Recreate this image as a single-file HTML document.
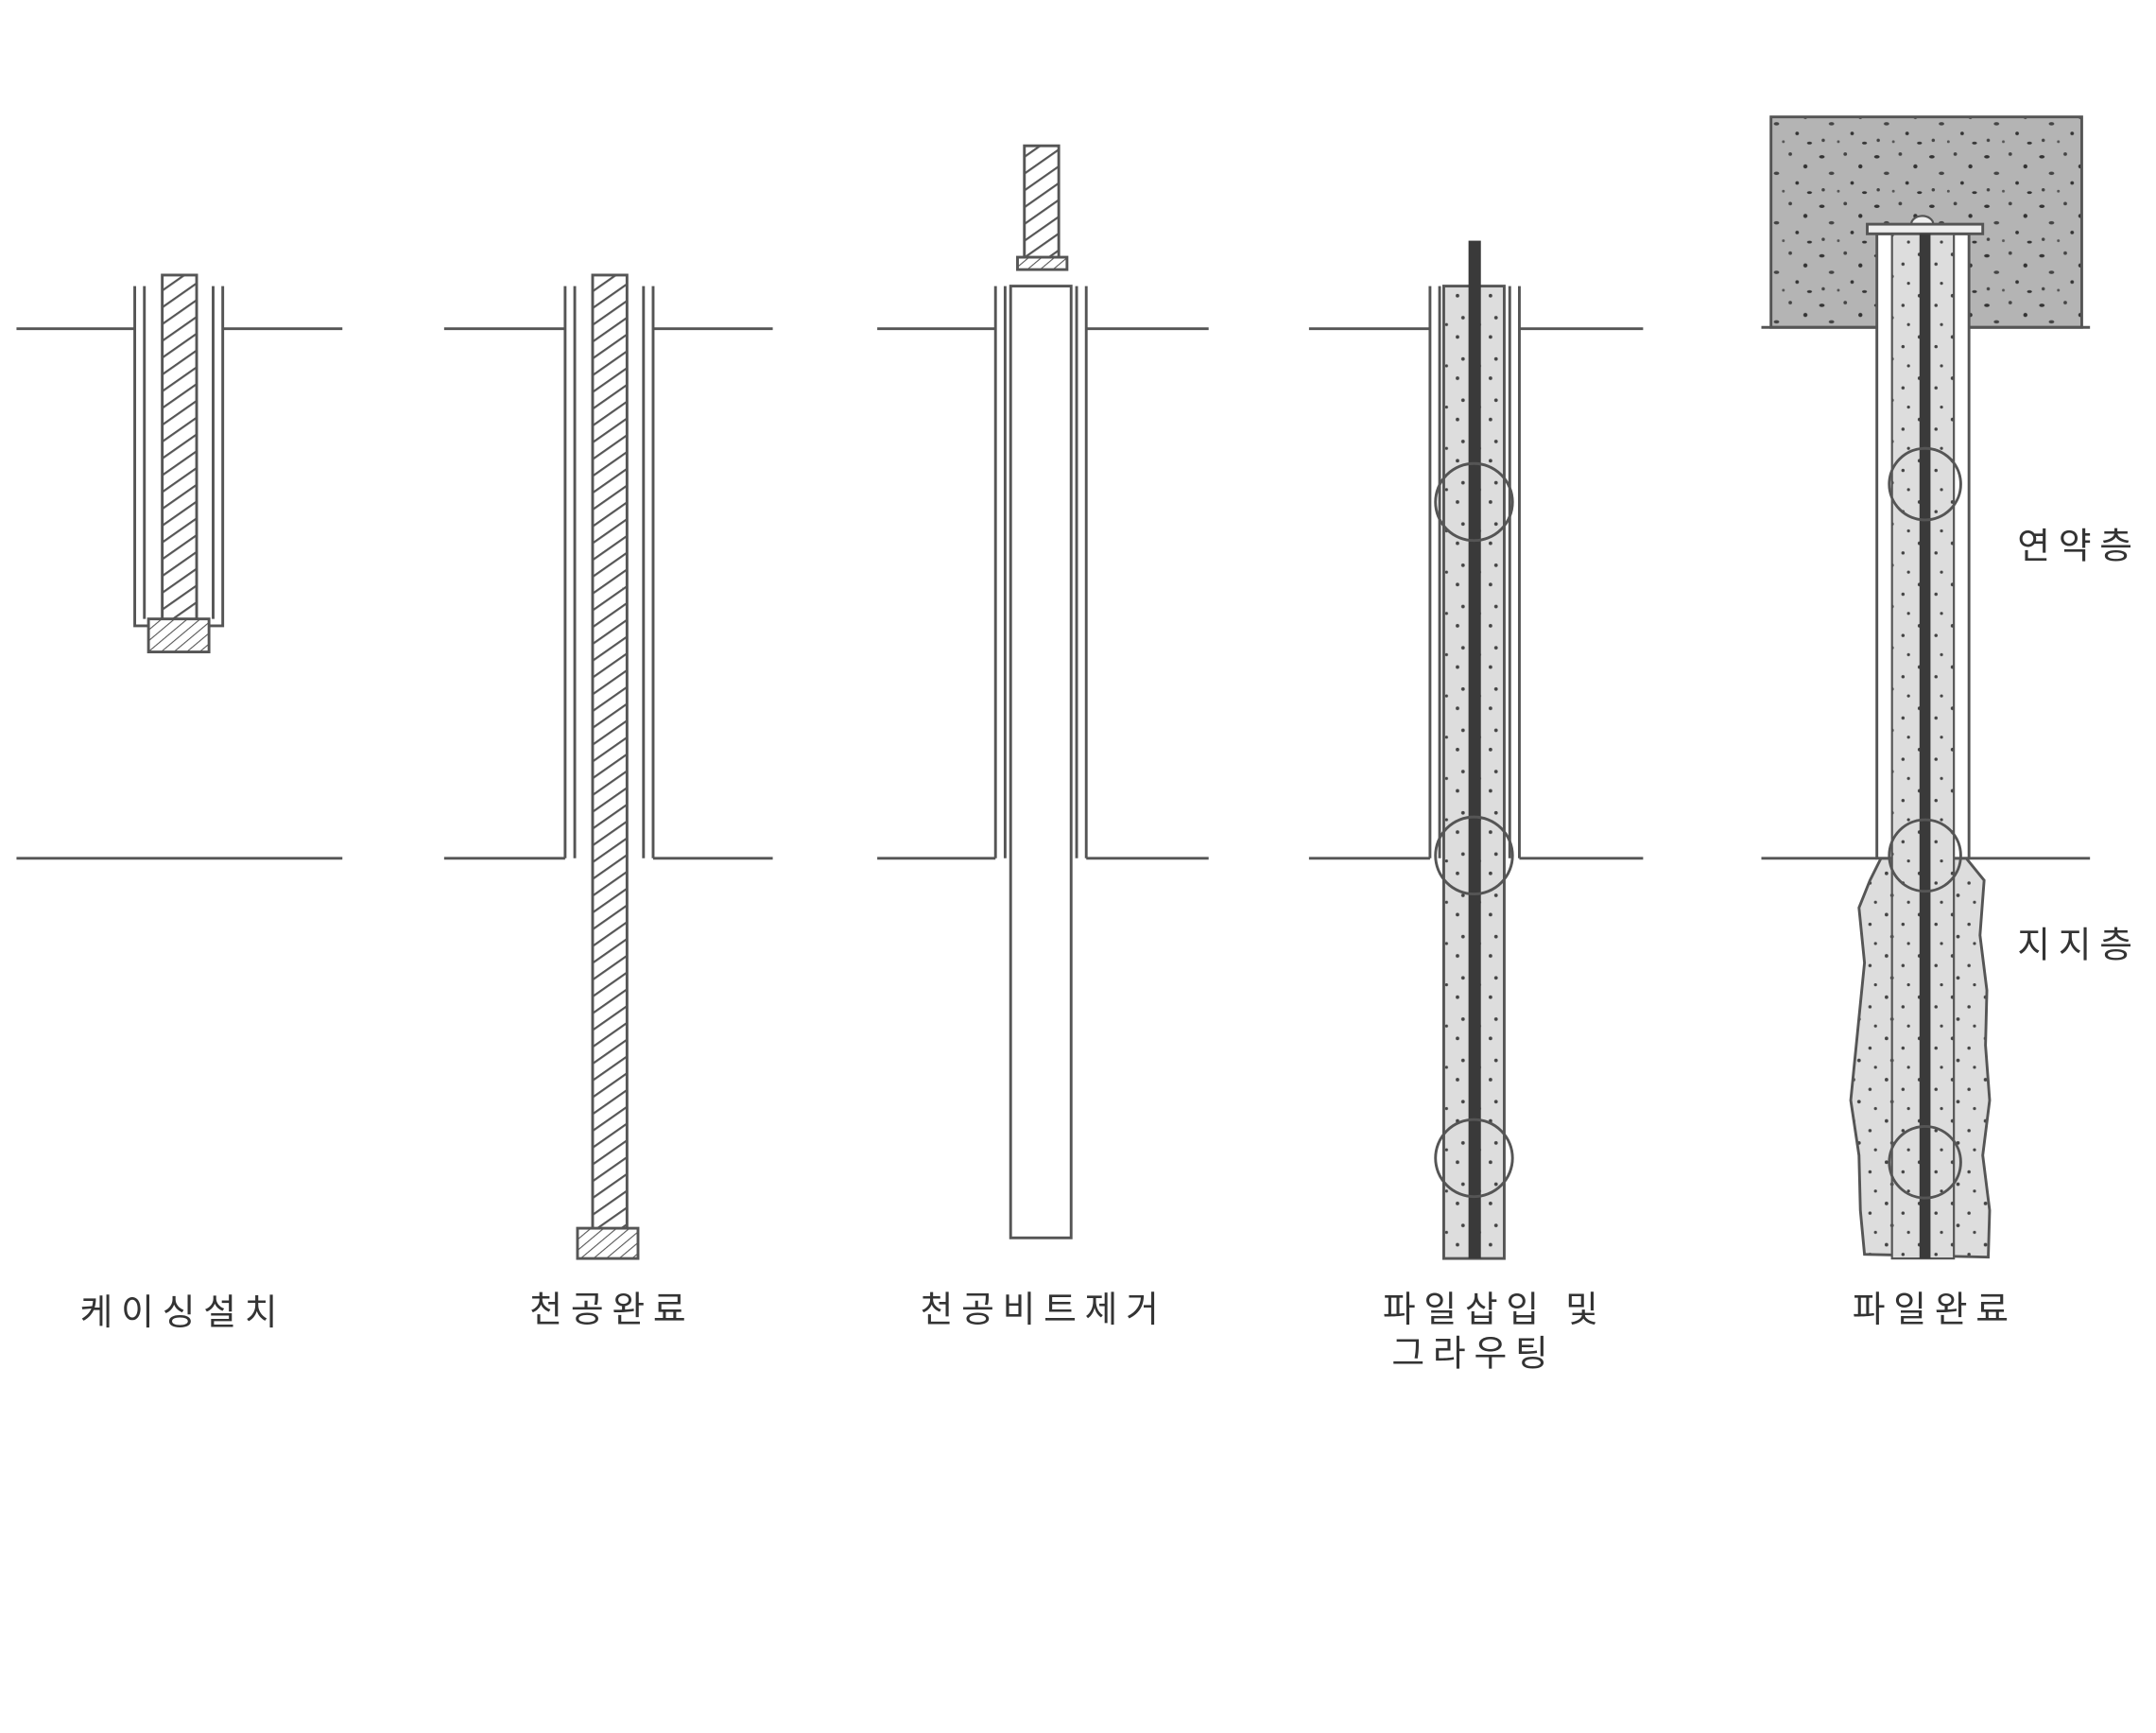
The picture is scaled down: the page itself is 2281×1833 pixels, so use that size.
<!DOCTYPE html>
<html><head><meta charset="utf-8"><style>
html,body{margin:0;padding:0;background:#fff;}
svg{display:block;}
text{font-family:"Liberation Sans","Noto Sans CJK KR","NanumGothic",sans-serif;fill:#333;font-size:26px;letter-spacing:6px;}
</style></head><body>
<svg width="2281" height="1833" viewBox="0 0 1568 1260" preserveAspectRatio="none" xmlns="http://www.w3.org/2000/svg">
<defs>
<pattern id="hatch" width="10" height="10" patternUnits="userSpaceOnUse" patternTransform="rotate(-35)">
<rect width="10" height="10" fill="#fff"/><line x1="0" y1="0" x2="10" y2="0" stroke="#555" stroke-width="3"/>
</pattern>
<pattern id="hatch2" width="6" height="6" patternUnits="userSpaceOnUse" patternTransform="rotate(-40)">
<rect width="6" height="6" fill="#fff"/><line x1="0" y1="0" x2="6" y2="0" stroke="#555" stroke-width="1.5"/>
</pattern>
<pattern id="grout" width="24" height="30" patternUnits="userSpaceOnUse">
<rect width="24" height="30" fill="#ddd"/>
<circle cx="4" cy="5" r="1.3" fill="#444"/><circle cx="16" cy="12" r="1.2" fill="#444"/>
<circle cx="8" cy="21" r="1.3" fill="#444"/><circle cx="20" cy="26" r="1.1" fill="#444"/>
</pattern>
<pattern id="conc" width="40" height="36" patternUnits="userSpaceOnUse">
<rect width="40" height="36" fill="#b4b4b4"/>
<ellipse cx="5" cy="6" rx="2" ry="1.2" fill="#333"/><circle cx="22" cy="4" r="1.3" fill="#444"/>
<circle cx="33" cy="13" r="1.5" fill="#333"/><ellipse cx="12" cy="18" rx="2" ry="1.2" fill="#444"/>
<circle cx="27" cy="25" r="1.3" fill="#333"/><circle cx="6" cy="30" r="1.2" fill="#444"/>
<ellipse cx="36" cy="32" rx="1.8" ry="1" fill="#333"/><circle cx="17" cy="31" r="1" fill="#555"/>
</pattern>
</defs>
<g stroke="#555" stroke-width="2" fill="none">
<line x1="12" y1="239" x2="98" y2="239"/><line x1="162" y1="239" x2="249" y2="239"/>
<line x1="12" y1="624" x2="249" y2="624"/>
<line x1="323" y1="239" x2="411" y2="239"/><line x1="475" y1="239" x2="562" y2="239"/>
<line x1="323" y1="624" x2="411" y2="624"/><line x1="475" y1="624" x2="562" y2="624"/>
<line x1="638" y1="239" x2="724" y2="239"/><line x1="790" y1="239" x2="879" y2="239"/>
<line x1="638" y1="624" x2="724" y2="624"/><line x1="790" y1="624" x2="879" y2="624"/>
<line x1="952" y1="239" x2="1040" y2="239"/><line x1="1105" y1="239" x2="1195" y2="239"/>
<line x1="952" y1="624" x2="1040" y2="624"/><line x1="1105" y1="624" x2="1195" y2="624"/>
<line x1="1281" y1="624" x2="1365" y2="624"/><line x1="1432" y1="624" x2="1520" y2="624"/>
</g>
<g stroke="#555" stroke-width="2" fill="none">
<path d="M98 208 V455 H162 V208"/><line x1="105" y1="208" x2="105" y2="450"/><line x1="155" y1="208" x2="155" y2="450"/>
</g>
<rect x="118" y="200" width="25" height="252" fill="url(#hatch)" stroke="#555" stroke-width="2"/>
<rect x="108" y="450" width="44" height="24" fill="url(#hatch2)" stroke="#555" stroke-width="2"/>
<g stroke="#555" stroke-width="2" fill="none">
<line x1="411" y1="208" x2="411" y2="624"/><line x1="418" y1="208" x2="418" y2="624"/>
<line x1="468" y1="208" x2="468" y2="624"/><line x1="475" y1="208" x2="475" y2="624"/>
</g>
<rect x="431" y="200" width="25" height="695" fill="url(#hatch)" stroke="#555" stroke-width="2"/>
<rect x="420" y="893" width="44" height="22" fill="url(#hatch2)" stroke="#555" stroke-width="2"/>
<g stroke="#555" stroke-width="2" fill="none">
<line x1="724" y1="208" x2="724" y2="624"/><line x1="731" y1="208" x2="731" y2="624"/>
<line x1="783" y1="208" x2="783" y2="624"/><line x1="790" y1="208" x2="790" y2="624"/>
<rect x="735" y="208" width="44" height="692" fill="#fff"/>
</g>
<rect x="745" y="106" width="25" height="82" fill="url(#hatch)" stroke="#555" stroke-width="2"/>
<rect x="740" y="187" width="36" height="9" fill="url(#hatch2)" stroke="#555" stroke-width="2"/>
<g stroke="#555" stroke-width="2" fill="none">
<line x1="1040" y1="208" x2="1040" y2="624"/><line x1="1047" y1="208" x2="1047" y2="624"/>
<line x1="1098" y1="208" x2="1098" y2="624"/><line x1="1105" y1="208" x2="1105" y2="624"/>
</g>
<rect x="1050" y="208" width="44" height="707" fill="url(#grout)" stroke="#555" stroke-width="2"/>
<rect x="1068" y="175" width="9" height="740" fill="#3a3a3a"/>
<g stroke="#555" stroke-width="2" fill="none">
<circle cx="1072" cy="365" r="28"/><circle cx="1072" cy="622" r="28"/><circle cx="1072" cy="842" r="28"/>
</g>
<rect x="1288" y="85" width="226" height="153" fill="url(#conc)" stroke="#555" stroke-width="2"/>
<line x1="1281" y1="238" x2="1520" y2="238" stroke="#555" stroke-width="2"/>
<path d="M1368 624 L1360 640 L1352 660 L1356 700 L1350 760 L1346 800 L1352 840 L1353 880 L1356 912 L1446 914 L1447 880 L1442 840 L1447 800 L1444 760 L1445 720 L1440 680 L1443 640 L1430 624 Z" fill="url(#grout)" stroke="#555" stroke-width="2"/>
<rect x="1365" y="170" width="67" height="454" fill="#fff" stroke="#555" stroke-width="2"/>
<rect x="1376" y="170" width="45" height="745" fill="url(#grout)" stroke="#555" stroke-width="1.5"/>
<path d="M1390 163 A8 6 0 0 1 1406 163 Z" fill="#eee" stroke="#555" stroke-width="1.5"/>
<rect x="1358" y="163" width="84" height="7" fill="#eee" stroke="#555" stroke-width="2"/>
<rect x="1396" y="170" width="8" height="745" fill="#3a3a3a"/>
<g stroke="#555" stroke-width="2" fill="none">
<circle cx="1400" cy="352" r="26"/><circle cx="1400" cy="622" r="26"/><circle cx="1400" cy="845" r="26"/>
</g>
<text x="133" y="963" text-anchor="middle">케이싱설치</text>
<text x="445" y="961" text-anchor="middle">천공완료</text>
<text x="759" y="961" text-anchor="middle">천공비트제거</text>
<text x="1087" y="961" text-anchor="middle">파일삽입 및</text>
<text x="1072" y="993" text-anchor="middle">그라우팅</text>
<text x="1407" y="961" text-anchor="middle">파일완료</text>
<text x="1512" y="406" text-anchor="middle">연약층</text>
<text x="1512" y="696" text-anchor="middle">지지층</text>
</svg>
</body></html>
